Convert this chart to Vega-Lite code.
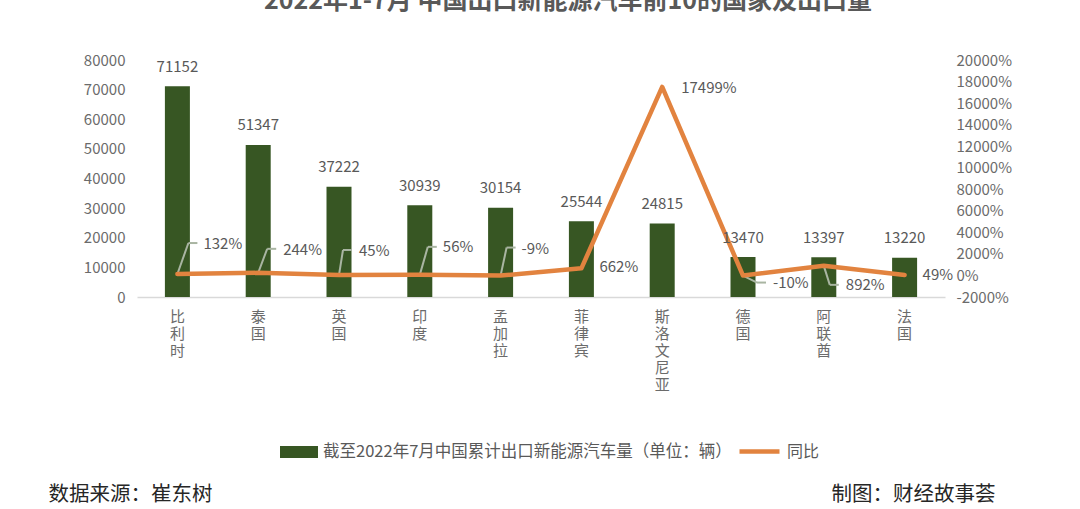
{
  "$schema": "https://vega.github.io/schema/vega-lite/v6.json",
  "autosize": {"type": "none"},
  "padding": {"left": 137, "top": 60, "right": 135, "bottom": 212},
  "width": 808,
  "height": 237,
  "background": "white",
  "config": {
    "font": "Noto Sans CJK SC",
    "view": {"stroke": null}
  },
  "title": {
    "text": "2022年1-7月 中国出口新能源汽车前10的国家及出口量",
    "fontSize": 25,
    "fontWeight": "bold",
    "color": "#595959",
    "anchor": "middle",
    "dx": 27,
    "offset": 39
  },
  "params": [
    {"name": "labelNudge", "value": {
      "比利时": [26, -30], "泰国": [25, -23], "英国": [20, -24], "印度": [23, -28], "孟加拉": [21, -27],
      "菲律宾": [18, -1], "斯洛文尼亚": [19, 1], "德国": [30, 7], "阿联酋": [22, 19], "法国": [18, 0]
    }},
    {"name": "elbow", "value": {
      "比利时": [11, -31], "泰国": [9, -24], "英国": [4, -25], "印度": [8, -28], "孟加拉": [6, -28],
      "德国": [14, 7], "阿联酋": [6, 19]
    }}
  ],
  "data": {
    "values": [
      {"country": "比利时", "volume": 71152, "yoy": 132},
      {"country": "泰国", "volume": 51347, "yoy": 244},
      {"country": "英国", "volume": 37222, "yoy": 45},
      {"country": "印度", "volume": 30939, "yoy": 56},
      {"country": "孟加拉", "volume": 30154, "yoy": -9},
      {"country": "菲律宾", "volume": 25544, "yoy": 662},
      {"country": "斯洛文尼亚", "volume": 24815, "yoy": 17499},
      {"country": "德国", "volume": 13470, "yoy": -10},
      {"country": "阿联酋", "volume": 13397, "yoy": 892},
      {"country": "法国", "volume": 13220, "yoy": 49}
    ]
  },
  "encoding": {
    "x": {
      "field": "country",
      "type": "nominal",
      "sort": null,
      "scale": {"paddingInner": 0.69, "paddingOuter": 0.345},
      "axis": {
        "title": null,
        "labelAngle": 0,
        "labelExpr": "split(datum.label, '')",
        "labelFontSize": 15,
        "labelLineHeight": 17,
        "labelColor": "#6b6b6b",
        "labelPadding": 12,
        "ticks": false,
        "domainColor": "#d9d9d9",
        "domainWidth": 1.5
      }
    }
  },
  "layer": [
    {
      "mark": {"type": "bar", "width": 25},
      "encoding": {
        "y": {
          "field": "volume",
          "type": "quantitative",
          "scale": {"domain": [0, 80000]},
          "axis": {
            "orient": "left",
            "values": [0, 10000, 20000, 30000, 40000, 50000, 60000, 70000, 80000],
            "format": "d",
            "grid": false,
            "domain": false,
            "ticks": false,
            "labelFontSize": 15,
            "labelColor": "#6b6b6b",
            "labelPadding": 12,
            "title": "数据来源：崔东树",
            "titleAngle": 0,
            "titleFontSize": 20.5,
            "titleFontWeight": "normal",
            "titleColor": "#262626",
            "titleAlign": "center",
            "titleBaseline": "middle",
            "titleX": -7,
            "titleY": 434
          }
        },
        "fill": {
          "datum": "截至2022年7月中国累计出口新能源汽车量（单位：辆）",
          "scale": {"range": ["#375623"]},
          "legend": {
            "orient": "none",
            "legendX": 143,
            "legendY": 373,
            "title": null,
            "symbolType": "M-1,-0.32H1V0.32H-1Z",
            "symbolSize": 1444,
            "symbolStrokeWidth": 0,
            "labelFontSize": 16.5,
            "labelLimit": 600,
            "labelColor": "#595959",
            "labelOffset": 5
          }
        }
      }
    },
    {
      "transform": [{"filter": {"field": "country", "oneOf": ["比利时", "泰国", "英国", "印度", "孟加拉", "德国", "阿联酋"]}}],
      "mark": {
        "type": "rule",
        "color": "#a9b5a2",
        "strokeWidth": 2,
        "x2Offset": {"expr": "elbow[datum.country][0]"},
        "y2Offset": {"expr": "elbow[datum.country][1]"}
      },
      "encoding": {
        "x2": {"field": "country", "bandPosition": 0.5},
        "y": {"field": "yoy", "type": "quantitative", "scale": {"domain": [-2000, 20000]}, "axis": null},
        "y2": {"field": "yoy"}
      }
    },
    {
      "transform": [{"filter": {"field": "country", "oneOf": ["比利时", "泰国", "英国", "印度", "孟加拉", "德国", "阿联酋"]}}],
      "mark": {
        "type": "rule",
        "color": "#a9b5a2",
        "strokeWidth": 2,
        "xOffset": {"expr": "elbow[datum.country][0]"},
        "x2Offset": {"expr": "elbow[datum.country][0] + 9"},
        "yOffset": {"expr": "elbow[datum.country][1]"}
      },
      "encoding": {
        "x2": {"field": "country", "bandPosition": 0.5},
        "y": {"field": "yoy", "type": "quantitative", "scale": {"domain": [-2000, 20000]}, "axis": null}
      }
    },
    {
      "mark": {"type": "line", "strokeWidth": 4.5, "strokeCap": "round", "strokeJoin": "round"},
      "encoding": {
        "y": {
          "field": "yoy",
          "type": "quantitative",
          "scale": {"domain": [-2000, 20000]},
          "axis": {
            "orient": "right",
            "values": [-2000, 0, 2000, 4000, 6000, 8000, 10000, 12000, 14000, 16000, 18000, 20000],
            "labelExpr": "datum.value + '%'",
            "grid": false,
            "domain": false,
            "ticks": false,
            "labelFontSize": 15,
            "labelColor": "#6b6b6b",
            "labelPadding": 11,
            "title": "制图：财经故事荟",
            "titleAngle": 0,
            "titleFontSize": 20.5,
            "titleFontWeight": "normal",
            "titleColor": "#262626",
            "titleAlign": "center",
            "titleBaseline": "middle",
            "titleX": -32,
            "titleY": 434
          }
        },
        "stroke": {
          "datum": "同比",
          "scale": {"range": ["#e2833f"]},
          "legend": {
            "orient": "none",
            "legendX": 600,
            "legendY": 369,
            "title": null,
            "symbolType": "stroke",
            "symbolSize": 1600,
            "symbolStrokeWidth": 4.5,
            "labelFontSize": 16,
            "labelColor": "#595959",
            "labelOffset": 5
          }
        }
      }
    },
    {
      "mark": {"type": "text", "fontSize": 15, "color": "#595959", "dy": -19.5},
      "encoding": {
        "y": {"field": "volume", "type": "quantitative", "scale": {"domain": [0, 80000]}, "axis": null},
        "text": {"field": "volume", "type": "quantitative", "format": "d"}
      }
    },
    {
      "mark": {
        "type": "text",
        "fontSize": 15,
        "color": "#595959",
        "align": "left",
        "baseline": "middle",
        "text": {"expr": "datum.yoy + '%'"},
        "dx": {"expr": "labelNudge[datum.country][0]"},
        "dy": {"expr": "labelNudge[datum.country][1]"}
      },
      "encoding": {
        "y": {"field": "yoy", "type": "quantitative", "scale": {"domain": [-2000, 20000]}, "axis": null}
      }
    }
  ],
  "resolve": {"scale": {"y": "independent", "fill": "independent", "stroke": "independent"}}
}
